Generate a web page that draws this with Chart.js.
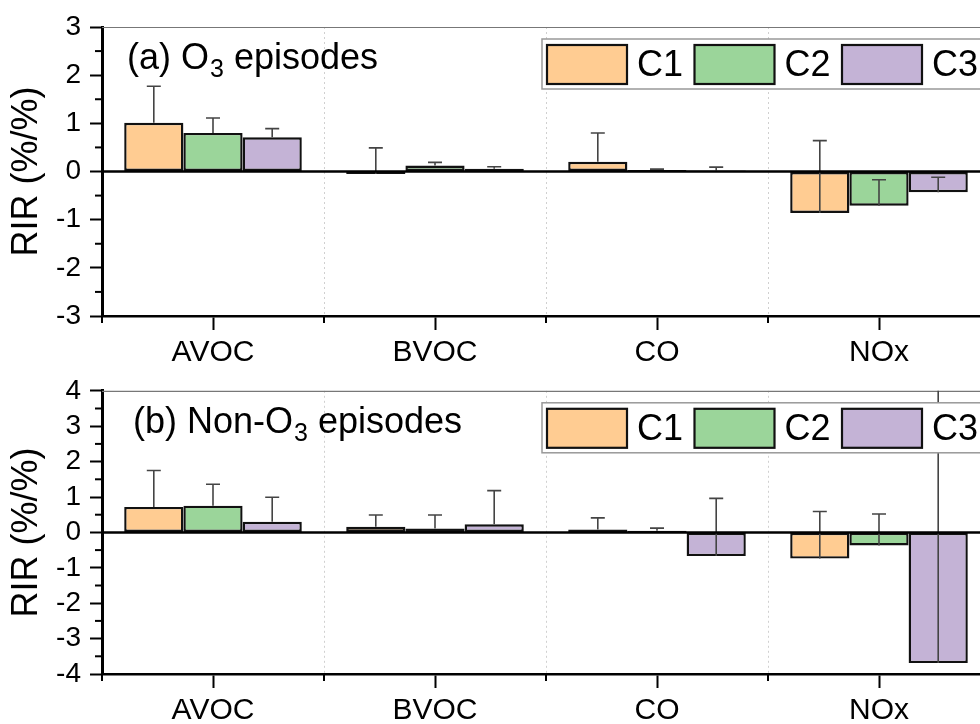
<!DOCTYPE html>
<html>
<head>
<meta charset="utf-8">
<title>RIR</title>
<script src="https://cdn.jsdelivr.net/npm/chart.js@4.4.1/dist/chart.umd.min.js"></script>
<style>
  html, body { margin: 0; padding: 0; background: #fff; overflow: hidden; }
  canvas { position: absolute; left: 0; }
  #chartA { top: 0; }
  #chartB { top: 365px; }
</style>
</head>
<body>
<canvas id="chartA" width="1000" height="365"></canvas>
<canvas id="chartB" width="1000" height="359"></canvas>
<script>
const categories = ['AVOC', 'BVOC', 'CO', 'NOx'];
const seriesNames = ['C1', 'C2', 'C3'];
const colors = ['#FFCC92', '#9BD59A', '#C4B3D6'];

// (a) O3 episodes
const o3C1 = [1.01, -0.05, 0.20, -0.86];
const o3C2 = [0.80, 0.125, 0.03, -0.71];
const o3C3 = [0.71, 0.055, 0.02, -0.43];
const o3ErrC1 = [0.76, 0.54, 0.60, 1.50];
const o3ErrC2 = [0.31, 0.065, 0.02, 0.54];
const o3ErrC3 = [0.18, 0.045, 0.07, 0.31];

// (b) Non-O3 episodes
const nonC1 = [0.72, 0.16, 0.08, -0.74];
const nonC2 = [0.755, 0.11, 0.05, -0.37];
const nonC3 = [0.30, 0.23, -0.67, -3.69];
const nonErrC1 = [1.03, 0.33, 0.33, 1.33];
const nonErrC2 = [0.605, 0.38, 0.07, 0.89];
const nonErrC3 = [0.695, 0.95, 1.63, 8.5];

const yRangeA = [-3, 3];
const yRangeB = [-4, 4];

Chart.defaults.font.family = '"Liberation Sans", Arial, sans-serif';
Chart.defaults.color = '#000';

// frame, dotted separators, error bars, zero line, minor ticks, title, legend
function decor(title, titleX) {
  return {
    id: 'decor',
    beforeDatasetsDraw(chart) {
      const { ctx, chartArea: a, scales: { x } } = chart;
      ctx.save();
      ctx.strokeStyle = '#d0d0d0';
      ctx.lineWidth = 1;
      ctx.setLineDash([2, 3]);
      for (let k = 1; k < categories.length; k++) {
        const px = Math.round(x.getPixelForValue(k - 0.5)) + 0.5;
        ctx.beginPath();
        ctx.moveTo(px, a.top);
        ctx.lineTo(px, a.bottom);
        ctx.stroke();
      }
      ctx.setLineDash([]);
      ctx.strokeStyle = '#777';
      ctx.lineWidth = 1.2;
      ctx.beginPath();
      ctx.moveTo(a.left, a.top + 0.5);
      ctx.lineTo(a.right, a.top + 0.5);
      ctx.lineTo(a.right, a.bottom);
      ctx.stroke();
      ctx.restore();
    },
    afterDatasetsDraw(chart) {
      const { ctx, chartArea: a, scales: { x, y } } = chart;
      ctx.save();

      // error bars (upper side only)
      ctx.beginPath();
      ctx.rect(a.left, a.top, a.right - a.left, a.bottom - a.top);
      ctx.clip();
      ctx.strokeStyle = '#444';
      ctx.lineWidth = 1.6;
      chart.data.datasets.forEach((ds, di) => {
        chart.getDatasetMeta(di).data.forEach((bar, j) => {
          const v = ds.data[j];
          const y0 = y.getPixelForValue(v);
          const y1 = y.getPixelForValue(v + ds.errors[j]);
          ctx.beginPath();
          ctx.moveTo(bar.x, y0);
          ctx.lineTo(bar.x, y1);
          ctx.moveTo(bar.x - 7, y1);
          ctx.lineTo(bar.x + 7, y1);
          ctx.stroke();
        });
      });
      ctx.restore();

      ctx.save();
      // zero line
      const y0 = y.getPixelForValue(0);
      ctx.strokeStyle = '#000';
      ctx.lineWidth = 2.5;
      ctx.beginPath();
      ctx.moveTo(a.left, y0);
      ctx.lineTo(a.right, y0);
      ctx.stroke();

      // minor ticks
      ctx.lineWidth = 2;
      for (let k = 0; k <= categories.length; k++) {
        const px = x.getPixelForValue(k - 0.5);
        ctx.beginPath();
        ctx.moveTo(px, a.bottom);
        ctx.lineTo(px, a.bottom + 7);
        ctx.stroke();
      }
      for (let v = y.min + 0.5; v < y.max; v += 1) {
        const py = y.getPixelForValue(v);
        ctx.beginPath();
        ctx.moveTo(a.left, py);
        ctx.lineTo(a.left - 7, py);
        ctx.stroke();
      }

      // panel title with subscript
      ctx.fillStyle = '#000';
      ctx.textBaseline = 'alphabetic';
      let tx = a.left + titleX;
      const ty = a.top + 42;
      ctx.font = '36px "Liberation Sans", Arial, sans-serif';
      ctx.fillText(title[0], tx, ty);
      tx += ctx.measureText(title[0]).width + 1;
      ctx.font = '25px "Liberation Sans", Arial, sans-serif';
      ctx.fillText(title[1], tx, ty + 8);
      tx += ctx.measureText(title[1]).width;
      ctx.font = '36px "Liberation Sans", Arial, sans-serif';
      ctx.fillText(title[2], tx, ty);

      // legend box
      const lx = a.left + 440, ly = a.top + 12;
      ctx.fillStyle = '#fff';
      ctx.fillRect(lx, ly, 460, 50);
      ctx.strokeStyle = '#999';
      ctx.lineWidth = 1.5;
      ctx.strokeRect(lx, ly, 460, 50);
      ctx.font = '36px "Liberation Sans", Arial, sans-serif';
      ctx.textBaseline = 'middle';
      seriesNames.forEach((name, i) => {
        const sx = lx + 5 + i * 147.5;
        ctx.fillStyle = colors[i];
        ctx.fillRect(sx, ly + 6, 80, 39);
        ctx.strokeStyle = '#111';
        ctx.lineWidth = 2.2;
        ctx.strokeRect(sx, ly + 6, 80, 39);
        ctx.fillStyle = '#000';
        ctx.fillText(name, sx + 90, ly + 27);
      });
      ctx.restore();
    }
  };
}

function buildPanel(id, series, errors, yRange, title, titleX, padTop, xHeight) {
  const ctx = document.getElementById(id).getContext('2d');
  return new Chart(ctx, {
    type: 'bar',
    data: {
      labels: categories,
      datasets: seriesNames.map((name, i) => ({
        label: name,
        data: series[i],
        errors: errors[i],
        backgroundColor: colors[i],
        borderColor: '#111',
        borderWidth: 2.4,
        borderSkipped: false,
        categoryPercentage: 0.8,
        barPercentage: 1.0
      }))
    },
    options: {
      responsive: false,
      animation: false,
      layout: { padding: { top: padTop, right: 10, bottom: 0, left: 0 } },
      plugins: { legend: { display: false }, tooltip: { enabled: false } },
      scales: {
        x: {
          grid: { offset: false, drawOnChartArea: false, tickLength: 14, tickWidth: 2, tickColor: '#000' },
          border: { color: '#000', width: 2.5 },
          ticks: { color: '#000', padding: 5, font: { size: 30 } },
          afterFit: s => { s.height = xHeight; }
        },
        y: {
          min: yRange[0],
          max: yRange[1],
          ticks: { stepSize: 1, autoSkip: false, color: '#000', padding: 9, font: { size: 28 } },
          grid: { drawOnChartArea: false, tickLength: 12, tickWidth: 2, tickColor: '#000' },
          border: { color: '#000', width: 3 },
          title: { display: true, text: 'RIR (%/%)', color: '#000', font: { size: 36 }, padding: { top: 5, bottom: 0 } },
          afterFit: s => { s.width = 102; }
        }
      }
    },
    plugins: [decor(title, titleX)]
  });
}

buildPanel('chartA', [o3C1, o3C2, o3C3], [o3ErrC1, o3ErrC2, o3ErrC3], yRangeA,
  ['(a) O', '3', ' episodes'], 25, 27, 49);
buildPanel('chartB', [nonC1, nonC2, nonC3], [nonErrC1, nonErrC2, nonErrC3], yRangeB,
  ['(b) Non-O', '3', ' episodes'], 31, 20, 50);
</script>
</body>
</html>
